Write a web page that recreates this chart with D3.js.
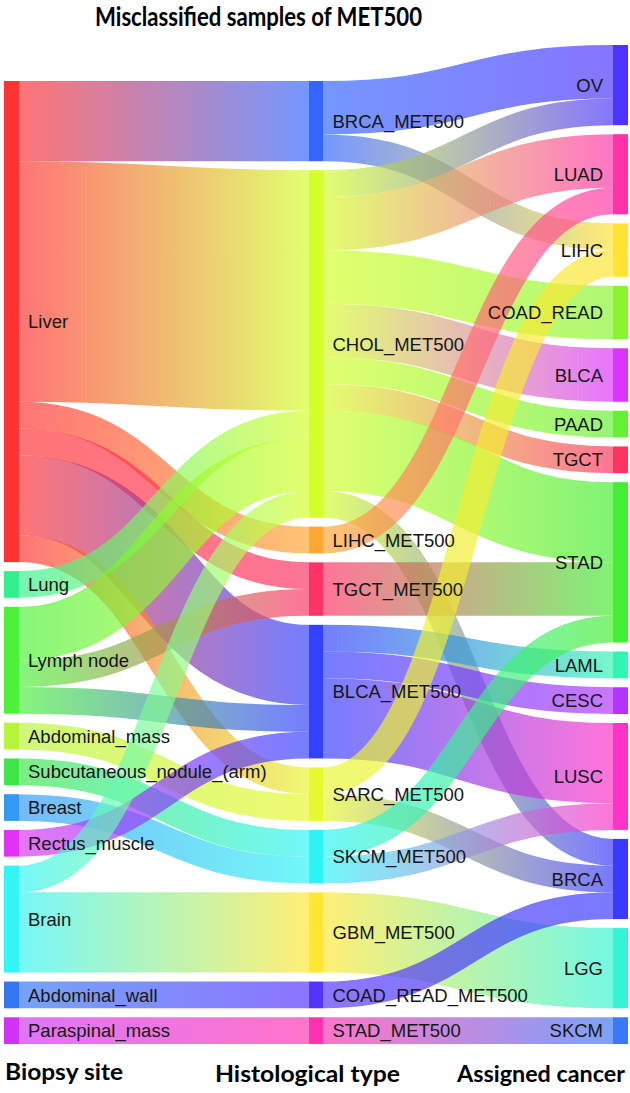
<!DOCTYPE html>
<html>
<head>
<meta charset="utf-8">
<script src="https://cdn.jsdelivr.net/npm/d3@7"></script>
<style>
  body { margin: 0; background: #fff; }
  .node-label { font-family: "Liberation Sans", Arial, sans-serif; font-size: 18.5px; fill: #161616; }
  .heading { font-family: Lato, "Open Sans", sans-serif; font-weight: bold; fill: #000; }
</style>
</head>
<body>
<div id="sankey"></div>
<script>
// Nodes of each column, top to bottom
var siteNodes = ["Liver", "Lung", "Lymph node", "Abdominal_mass", "Subcutaneous_nodule_(arm)",
  "Breast", "Rectus_muscle", "Brain", "Abdominal_wall", "Paraspinal_mass"];
var typeNodes = ["BRCA_MET500", "CHOL_MET500", "LIHC_MET500", "TGCT_MET500", "BLCA_MET500",
  "SARC_MET500", "SKCM_MET500", "GBM_MET500", "COAD_READ_MET500", "STAD_MET500"];
var cancerNodes = ["OV", "LUAD", "LIHC", "COAD_READ", "BLCA", "PAAD", "TGCT", "STAD",
  "LAML", "CESC", "LUSC", "BRCA", "LGG", "SKCM"];

// Sample counts: biopsy site -> histological type
var siteLinks = [
  ["Liver", "BRCA_MET500", 3], ["Liver", "CHOL_MET500", 9], ["Liver", "LIHC_MET500", 1],
  ["Liver", "TGCT_MET500", 1], ["Liver", "BLCA_MET500", 3], ["Liver", "SARC_MET500", 1],
  ["Lung", "CHOL_MET500", 1],
  ["Lymph node", "CHOL_MET500", 2], ["Lymph node", "TGCT_MET500", 1], ["Lymph node", "BLCA_MET500", 1],
  ["Abdominal_mass", "SARC_MET500", 1],
  ["Subcutaneous_nodule_(arm)", "SKCM_MET500", 1],
  ["Breast", "SKCM_MET500", 1],
  ["Rectus_muscle", "BLCA_MET500", 1],
  ["Brain", "CHOL_MET500", 1], ["Brain", "GBM_MET500", 3],
  ["Abdominal_wall", "COAD_READ_MET500", 1],
  ["Paraspinal_mass", "STAD_MET500", 1]
];

// Sample counts: histological type -> assigned cancer
var typeLinks = [
  ["BRCA_MET500", "OV", 2], ["BRCA_MET500", "LIHC", 1],
  ["CHOL_MET500", "OV", 1], ["CHOL_MET500", "LUAD", 2], ["CHOL_MET500", "COAD_READ", 2],
  ["CHOL_MET500", "BLCA", 2], ["CHOL_MET500", "PAAD", 1], ["CHOL_MET500", "TGCT", 1],
  ["CHOL_MET500", "STAD", 3], ["CHOL_MET500", "BRCA", 1],
  ["LIHC_MET500", "LUAD", 1],
  ["TGCT_MET500", "STAD", 2],
  ["BLCA_MET500", "LAML", 1], ["BLCA_MET500", "CESC", 1], ["BLCA_MET500", "LUSC", 3],
  ["SARC_MET500", "LIHC", 1], ["SARC_MET500", "BRCA", 1],
  ["SKCM_MET500", "STAD", 1], ["SKCM_MET500", "LUSC", 1],
  ["GBM_MET500", "LGG", 3],
  ["COAD_READ_MET500", "BRCA", 1],
  ["STAD_MET500", "SKCM", 1]
];

// Column titles
var columnTitles = ["Biopsy site", "Histological type", "Assigned cancer"];
var chartTitle = "Misclassified samples of MET500";

// Node colours
var nodeColor = {
  "Liver": "#ff3333", "Lung": "#33f08f", "Lymph node": "#4cf23a", "Abdominal_mass": "#b8f53a",
  "Subcutaneous_nodule_(arm)": "#3ee64a", "Breast": "#3399f5", "Rectus_muscle": "#df33f5",
  "Brain": "#33f5f5", "Abdominal_wall": "#3377f5", "Paraspinal_mass": "#d033f5",
  "BRCA_MET500": "#3366ff", "CHOL_MET500": "#d4ff2a", "LIHC_MET500": "#ffa733",
  "TGCT_MET500": "#ff3366", "BLCA_MET500": "#3340ff", "SARC_MET500": "#e6f82e",
  "SKCM_MET500": "#2ef5f5", "GBM_MET500": "#ffe833", "COAD_READ_MET500": "#5533ff",
  "STAD_MET500": "#ff33b0",
  "OV": "#4c33ff", "LUAD": "#ff33a8", "LIHC": "#ffe433", "COAD_READ": "#88f52e",
  "BLCA": "#dd33ff", "PAAD": "#66f033", "TGCT": "#ff3360", "STAD": "#44ee33",
  "LAML": "#33f5b3", "CESC": "#b433ff", "LUSC": "#ff33c8", "BRCA": "#3a3aff",
  "LGG": "#33f5d6", "SKCM": "#3a78f5"
};

var svgWidth = 630;
var svgHeight = 1093;

// layout extents
var nodeWidth = 15;
var nodePadding = 9;
var layoutTop = 45;
var layoutBottom = 1044;

var svg = d3.select("#sankey")
  .append("svg")
  .attr("width", svgWidth)
  .attr("height", svgHeight);

// build node / link objects
var columns = [siteNodes, typeNodes, cancerNodes];
var nodes = {};
columns.forEach(function(names, ci) {
  names.forEach(function(name) {
    nodes[name] = { name: name, col: ci, sourceLinks: [], targetLinks: [] };
  });
});

var links = siteLinks.concat(typeLinks).map(function(l) {
  var link = { source: nodes[l[0]], target: nodes[l[1]], value: l[2] };
  link.source.sourceLinks.push(link);
  link.target.targetLinks.push(link);
  return link;
});

Object.values(nodes).forEach(function(n) {
  n.value = Math.max(d3.sum(n.sourceLinks, d => d.value), d3.sum(n.targetLinks, d => d.value));
});

// x position of columns
var xScale = d3.scalePoint()
  .domain(d3.range(columns.length))
  .range([4, svgWidth - 2 - nodeWidth]);

// vertical scale: samples -> pixels, limited by the busiest column
var colTotals = columns.map(names => d3.sum(names, n => nodes[n].value));
var kyCandidates = columns.map(function(names, i) {
  return (layoutBottom - layoutTop - (names.length - 1) * nodePadding) / colTotals[i];
});
var yScale = d3.scaleLinear()
  .domain([0, 1])
  .range([0, d3.min(kyCandidates)]);

// stack nodes in each column, aligned to the bottom
columns.forEach(function(names, ci) {
  var used = yScale(colTotals[ci]) + (names.length - 1) * nodePadding;
  var y = layoutBottom - used;
  names.forEach(function(name) {
    var n = nodes[name];
    n.x0 = xScale(ci);
    n.x1 = n.x0 + nodeWidth;
    n.y0 = y;
    n.y1 = y + yScale(n.value);
    y = n.y1 + nodePadding;
  });
});

// link positions at both ends
Object.values(nodes).forEach(function(n) {
  var y = n.y0;
  n.sourceLinks.sort((a, b) => a.target.y0 - b.target.y0).forEach(function(l) {
    l.width = yScale(l.value);
    l.y0 = y + l.width / 2;
    y += l.width;
  });
  y = n.y0;
  n.targetLinks.sort((a, b) => a.source.y0 - b.source.y0).forEach(function(l) {
    l.y1 = y + yScale(l.value) / 2;
    y += yScale(l.value);
  });
});

// gradients for links
var defs = svg.append("defs");
links.forEach(function(l, i) {
  l.gid = "grad" + i;
  var grad = defs.append("linearGradient")
    .attr("id", l.gid)
    .attr("gradientUnits", "userSpaceOnUse")
    .attr("x1", l.source.x1)
    .attr("x2", l.target.x0);
  grad.append("stop").attr("offset", "0%").attr("stop-color", nodeColor[l.source.name]);
  grad.append("stop").attr("offset", "100%").attr("stop-color", nodeColor[l.target.name]);
});

var linkPath = d3.linkHorizontal()
  .source(d => [d.source.x1, d.y0])
  .target(d => [d.target.x0, d.y1]);

svg.append("g")
  .attr("fill", "none")
  .selectAll("path")
  .data(links)
  .enter()
  .append("path")
  .attr("d", linkPath)
  .attr("stroke", d => "url(#" + d.gid + ")")
  .attr("stroke-opacity", 0.68)
  .attr("stroke-width", d => d.width);

// node bars
svg.append("g")
  .selectAll("rect")
  .data(Object.values(nodes))
  .enter()
  .append("rect")
  .attr("x", d => d.x0)
  .attr("y", d => d.y0)
  .attr("width", nodeWidth)
  .attr("height", d => d.y1 - d.y0)
  .attr("fill", d => nodeColor[d.name]);

// node labels
svg.append("g")
  .selectAll("text")
  .data(Object.values(nodes))
  .enter()
  .append("text")
  .attr("class", "node-label")
  .attr("x", d => d.col < 2 ? d.x1 + 9 : d.x0 - 10)
  .attr("y", d => (d.y0 + d.y1) / 2)
  .attr("dy", "0.36em")
  .attr("text-anchor", d => d.col < 2 ? "start" : "end")
  .text(d => d.name);

// title
svg.append("text")
  .attr("class", "heading")
  .attr("x", 95)
  .attr("y", 26)
  .attr("font-size", 27)
  .attr("textLength", 327)
  .attr("lengthAdjust", "spacingAndGlyphs")
  .text(chartTitle);

// column titles
var colTitlePos = [[5, 1080, 118], [215, 1082, 185], [457, 1082, 168]];
svg.append("g")
  .selectAll("text")
  .data(columnTitles)
  .enter()
  .append("text")
  .attr("class", "heading")
  .attr("x", (d, i) => colTitlePos[i][0])
  .attr("y", (d, i) => colTitlePos[i][1])
  .attr("font-size", 22.5)
  .attr("textLength", (d, i) => colTitlePos[i][2])
  .attr("lengthAdjust", "spacingAndGlyphs")
  .text(d => d);
</script>
</body>
</html>
